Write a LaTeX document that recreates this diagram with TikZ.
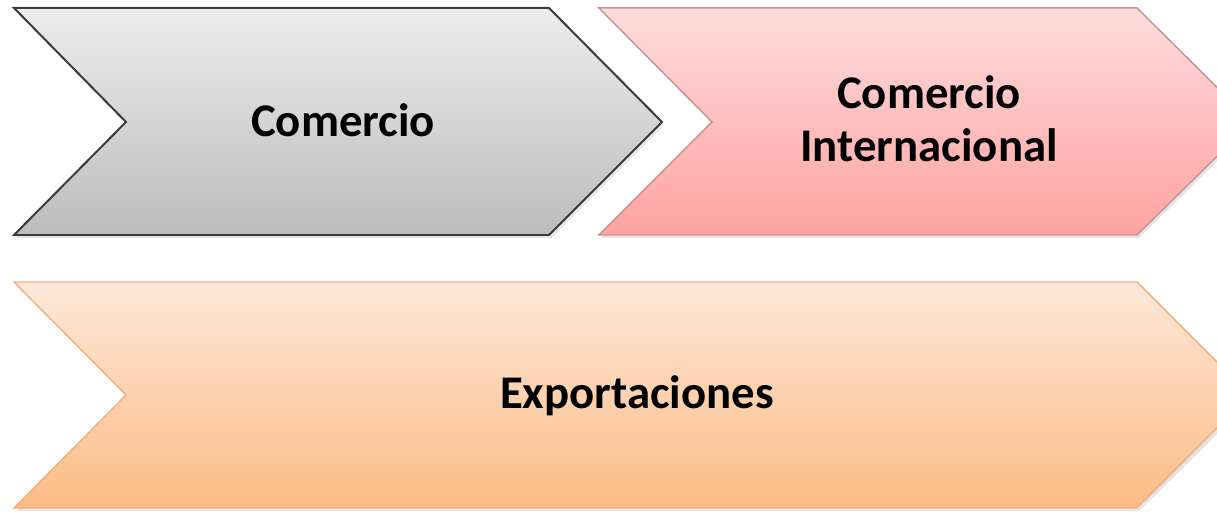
\documentclass[tikz,border=0pt]{standalone}
\usepackage{fontspec}
\setmainfont{Carlito}
\begin{document}
\begin{tikzpicture}[x=1bp,y=-1bp,
  lbl/.style={font=\fontsize{47}{54}\selectfont\bfseries, text=black, align=center, anchor=base, inner sep=0pt},
  shad/.style={fill=black, opacity=0.10}]
\useasboundingbox (0,0) rectangle (1217,512);
\clip (0,0) rectangle (1217,512);
\definecolor{grayT}{HTML}{EDEDED}
\definecolor{grayB}{HTML}{BCBCBC}
\definecolor{grayD}{HTML}{3A3A3A}
\definecolor{pinkT}{HTML}{FFDCDC}
\definecolor{pinkB}{HTML}{FFA2A2}
\definecolor{pinkD}{HTML}{C99593}
\definecolor{orT}{HTML}{FDE8DA}
\definecolor{orB}{HTML}{FBBB84}
\definecolor{orD}{HTML}{F4B183}
% shadows
\fill[shad] (16,11) -- (551,11) -- (664,125) -- (551,238) -- (16,238) -- (129,125) -- cycle;
\fill[shad] (601,11) -- (1139,11) -- (1254,125) -- (1139,238) -- (601,238) -- (714,125) -- cycle;
\fill[shad] (16,285) -- (1139,285) -- (1254,398) -- (1139,511) -- (16,511) -- (129,398) -- cycle;
% gray chevron
\shade[top color=grayT, bottom color=grayB, draw=grayD, line width=2pt, line join=miter]
  (14,8) -- (549,8) -- (662,122) -- (549,235) -- (14,235) -- (126,122) -- cycle;
% pink chevron
\shade[top color=pinkT, bottom color=pinkB, draw=pinkD, line width=1.5pt, line join=miter]
  (599,8) -- (1137,8) -- (1252,122) -- (1137,235) -- (599,235) -- (712,122) -- cycle;
% orange chevron
\shade[top color=orT, bottom color=orB, draw=orD, line width=1.5pt, line join=miter]
  (14,282) -- (1137,282) -- (1250,395) -- (1137,508) -- (14,508) -- (126,395) -- cycle;
\node[lbl] (com) at (343,137) {Comercio};
\node[lbl] (ci) at (929,162) {Comercio\\Internacional};
\node[lbl] (exp) at (637,408) {Exportaciones};
\end{tikzpicture}
\end{document}
